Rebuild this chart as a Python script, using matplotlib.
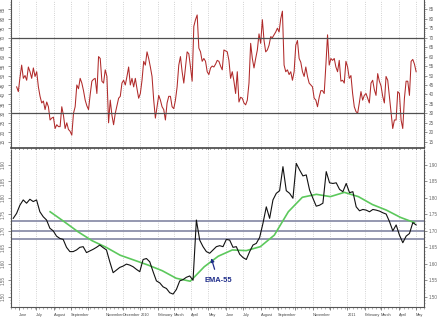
import numpy as np
import pandas as pd
import matplotlib
matplotlib.use("Agg")
import matplotlib.pyplot as plt
import matplotlib.dates as mdates

plt.rcParams["font.family"] = ["Liberation Sans", "DejaVu Sans"]

# RSI (top panel), evenly spaced in time
rsi = [44, 41.5, 49, 55.5, 48.5, 50, 47.5, 54.5, 52, 48.5, 54, 49.5, 52, 44, 39, 35.5,
       36.5, 32, 36, 33.5, 26.5, 27.5, 28, 22, 24, 23, 23, 33.5, 29, 22, 25, 21.5,
       20.5, 18.5, 30, 33.5, 45, 43, 48.5, 46, 42, 37, 34, 32, 40, 47, 48, 48.5,
       40.5, 60, 59, 47, 46, 53, 49.5, 25, 37, 29, 24, 30, 34, 38, 39, 46,
       47.5, 45, 49.5, 54.5, 45, 48.5, 44, 48.5, 43, 38, 40.5, 47.5, 57.5, 55.5, 62.5, 59,
       54.5, 49.5, 37, 27.5, 33.5, 39.5, 37, 33.5, 32, 26.5, 35.5, 39, 39, 33.5, 32.5, 37,
       44, 55.5, 60, 52, 46, 54.5, 62.5, 61.5, 54.5, 47, 76, 79.5, 82, 64.5, 62.5, 57.5,
       59, 57.5, 52, 50.5, 54, 55, 54.5, 56, 58, 57.5,
       55, 53, 63.5, 63, 62.5, 58, 48.5, 52, 47, 40.5, 52, 36, 38.5, 38, 35.5, 34.5,
       37, 46, 67, 59, 54, 59, 63.5, 72, 67, 79.5, 68.5, 62.5, 63.5, 66, 70.5, 70,
       71.5, 73, 75, 73, 80, 84, 55.5, 52, 53, 50.5, 52, 47.5, 52, 66, 68.5, 59,
       57, 52, 49.5, 54.5, 49.5, 46, 45, 44, 38, 37, 33.5, 38.5, 42, 42, 40.5, 55.5,
       71.5, 55.5, 59, 58, 59, 54.5, 52, 58, 47, 47.5, 46, 57.5, 54.5, 48.5, 50, 40.5,
       33.5, 31, 30, 35.5, 41.5, 37, 39.5, 40.5, 38, 35.5, 46, 47.5, 42.5, 39.5, 51, 47,
       44.5, 39, 35.5, 49.5, 47.5, 39, 31, 22, 26.5, 26.5, 41.5, 40.5, 26.5, 22, 38, 47,
       47, 39.5, 57.5, 58.5, 56, 52]

# price (bottom panel)
price = [1.738, 1.753, 1.778, 1.794, 1.784, 1.796, 1.789, 1.794, 1.758, 1.743, 1.733, 1.708,
         1.700, 1.684, 1.677, 1.674, 1.650, 1.637, 1.637, 1.642, 1.650, 1.652, 1.634, 1.639,
         1.644, 1.650, 1.657, 1.649, 1.642, 1.606, 1.573, 1.581, 1.589, 1.593, 1.599, 1.596,
         1.591, 1.583, 1.576, 1.613, 1.616, 1.606, 1.576, 1.548, 1.542, 1.530, 1.525, 1.512,
         1.508, 1.522, 1.548, 1.552, 1.559, 1.563, 1.550, 1.733, 1.672, 1.652, 1.637, 1.632,
         1.642, 1.652,
         1.655, 1.652, 1.674, 1.672, 1.650, 1.652, 1.629, 1.619, 1.613, 1.637, 1.657, 1.662,
         1.680, 1.723, 1.773, 1.738, 1.794, 1.814, 1.822, 1.895, 1.822, 1.814, 1.799, 1.905,
         1.885, 1.867, 1.870, 1.824, 1.799, 1.775, 1.778, 1.784, 1.880, 1.846, 1.844, 1.846,
         1.826, 1.819, 1.844, 1.816, 1.819, 1.773, 1.761, 1.765, 1.763, 1.758, 1.765, 1.763,
         1.760, 1.755, 1.751, 1.728, 1.700, 1.718, 1.687, 1.664, 1.684, 1.692, 1.725, 1.718]

# EMA-55
ema = [1.758, 1.728, 1.697, 1.670, 1.650, 1.626, 1.611, 1.596, 1.579, 1.556, 1.547, 1.591,
       1.623, 1.642, 1.640, 1.652, 1.687, 1.758, 1.802, 1.811, 1.804, 1.817, 1.804, 1.780,
       1.763, 1.741, 1.725]

rsi_dates = pd.date_range("2009-05-28", "2011-05-02", periods=len(rsi))
price_dates = pd.date_range("2009-05-22", "2011-05-02", periods=len(price))
ema_dates = pd.date_range("2009-07-26", "2011-04-29", periods=len(ema))

rsi_levels = [70, 30]
price_levels = [1.73, 1.70, 1.675]

month_names = {1: None, 2: "February", 3: "March", 4: "April", 5: "May", 6: "June",
               7: "July", 8: "August", 9: "September", 10: "", 11: "November", 12: "December"}
hidden_months = ["2010-12"]

fig = plt.figure(figsize=(4.39, 3.2), dpi=100)
ax1 = fig.add_axes([0.025, 0.5375, 0.941, 0.4625])
ax2 = fig.add_axes([0.025, 0.0406, 0.941, 0.4906])

xmin, xmax = pd.Timestamp("2009-05-18"), pd.Timestamp("2011-05-16")


def month_label(x, pos):
    d = mdates.num2date(x)
    if d.strftime("%Y-%m") in hidden_months:
        return ""
    if d.month == 1:
        return str(d.year)
    return month_names[d.month]


for ax in (ax1, ax2):
    ax.set_xlim(xmin, xmax)
    ax.xaxis.set_major_locator(mdates.MonthLocator())
    ax.xaxis.set_minor_locator(mdates.WeekdayLocator(byweekday=0))
    ax.grid(axis="x", color="#c4c4c4", ls=":", lw=0.6)
    ax.spines["top"].set_visible(False)
    for s in ("left", "right", "bottom"):
        ax.spines[s].set_color("#555555")
        ax.spines[s].set_linewidth(0.8)
    ax.tick_params(axis="y", which="both", left=True, right=True, labelleft=True,
                   labelright=True, labelsize=3.3, colors="#666666", direction="out", pad=1.5)
    ax.tick_params(axis="y", which="major", length=2, width=0.5)
    ax.tick_params(axis="y", which="minor", length=1, width=0.4)
    ax.tick_params(axis="x", which="major", length=2.5, width=0.5, colors="#555555",
                   direction="out")
    ax.tick_params(axis="x", which="minor", length=1.2, width=0.4, colors="#777777",
                   direction="out")

# top panel: RSI
ax1.plot(rsi_dates, rsi, color="#b02a2a", lw=0.75)
for lv in rsi_levels:
    ax1.axhline(lv, color="#505050", lw=0.9)
ax1.set_ylim(11.7, 89.9)
ax1.set_yticks(np.arange(15, 86, 5))
ax1.set_yticks(np.arange(12, 90, 1), minor=True)
ax1.tick_params(axis="x", labelbottom=False)
ax1.spines["bottom"].set_linewidth(1.2)
ax1.spines["bottom"].set_color("#444444")

# bottom panel: price + EMA
for lv in price_levels:
    ax2.axhline(lv, color="#8c90aa", lw=1.3)
ax2.plot(ema_dates, ema, color="#5cc85c", lw=1.2)
ax2.plot(price_dates, price, color="#111111", lw=0.8)
ax2.set_ylim(1.4687, 1.9456)
ax2.set_yticks(np.arange(1.50, 1.91, 0.05))
ax2.set_yticks(np.arange(1.47, 1.95, 0.01), minor=True)
ax2.yaxis.set_major_formatter(plt.FuncFormatter(lambda v, p: f"{v:.2f}"))
ax2.xaxis.set_major_formatter(plt.FuncFormatter(month_label))
ax2.tick_params(axis="x", labelsize=2.8, labelcolor="#444444", pad=1.5)
for lbl in ax2.get_xticklabels():
    lbl.set_ha("left")

for ax in (ax1, ax2):
    for t in ax.yaxis.get_major_ticks():
        t.label1.set_rotation(90)
        t.label1.set_va("center")

ax2.annotate("EMA-55", xy=(pd.Timestamp("2010-05-06"), 1.617),
             xytext=(pd.Timestamp("2010-05-18"), 1.548), ha="center", va="center",
             fontsize=5.4, fontweight="bold", color="#1f2d8a",
             arrowprops=dict(arrowstyle="-|>", color="#1f2d8a", lw=0.9,
                             mutation_scale=5, shrinkA=4, shrinkB=0))

fig.savefig("out.png", dpi=100)
plt.close(fig)
